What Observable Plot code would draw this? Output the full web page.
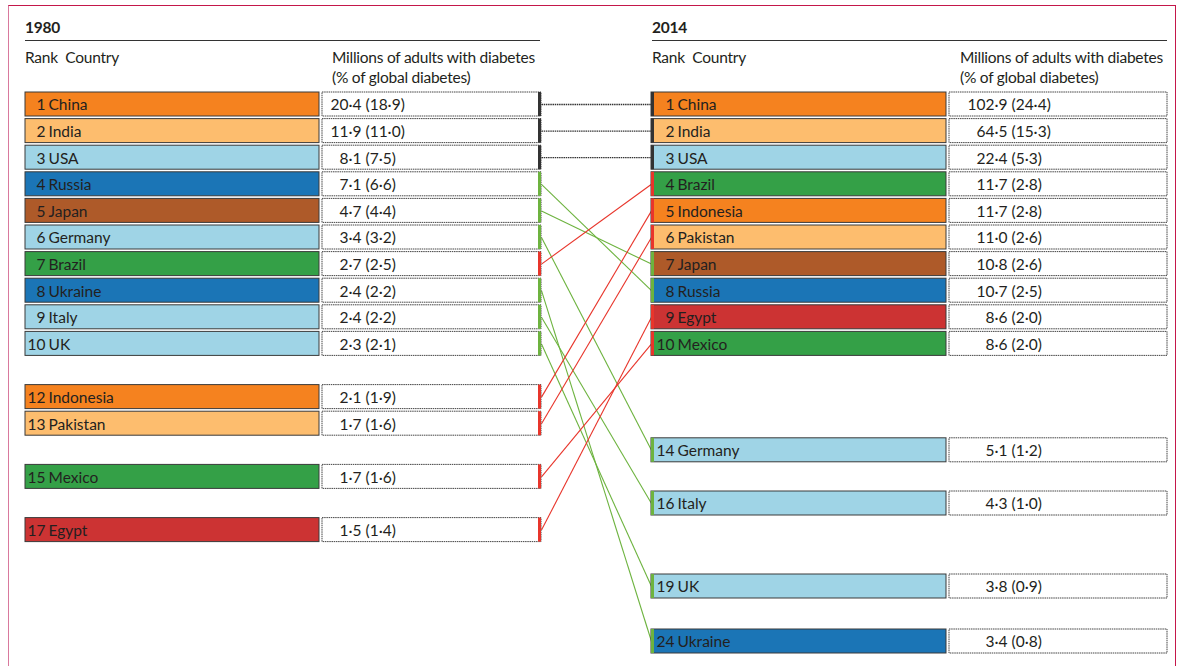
<!DOCTYPE html>
<html><head><meta charset="utf-8">
<script src="https://cdn.jsdelivr.net/npm/d3@7"></script>
<script src="https://cdn.jsdelivr.net/npm/@observablehq/plot@0.6"></script>
<style>
body{margin:0;background:#fff;}
#wrap{position:relative;width:1182px;height:666px;overflow:hidden;font-family:Lato,"Open Sans",sans-serif;color:#231f20}
#frame{position:absolute;left:8px;top:5px;width:1168px;height:700px;border-top:1.5px solid #c4174a;border-left:1.5px solid #d9799d;border-right:1.5px solid #c4174a;pointer-events:none;box-sizing:border-box}
.h{position:absolute;font-size:15.5px;line-height:20px;white-space:nowrap;letter-spacing:-0.25px}
.yr{font-weight:bold;font-size:15.5px;padding-bottom:3px;border-bottom:1.2px solid #333;width:515px}
#chart{position:absolute;left:0;top:0}
</style></head>
<body><div id="wrap">
<div id="chart"></div>
<div class="h yr" style="left:25px;top:17px">1980</div>
<div class="h" style="left:25px;top:47px">Rank&nbsp; Country</div>
<div class="h" style="left:332px;top:47px">Millions of adults with diabetes<br>(% of global diabetes)</div>
<div class="h yr" style="left:652px;top:17px">2014</div>
<div class="h" style="left:652px;top:47px">Rank&nbsp; Country</div>
<div class="h" style="left:960px;top:47px">Millions of adults with diabetes<br>(% of global diabetes)</div>
<div id="frame"></div>
</div>
<script>
// ---- data ----
const countries1980 = ["China","India","USA","Russia","Japan","Germany","Brazil","Ukraine","Italy","UK","Indonesia","Pakistan","Mexico","Egypt"];
const ranks1980 = [1,2,3,4,5,6,7,8,9,10,12,13,15,17];
const values1980 = ["20·4","11·9","8·1","7·1","4·7","3·4","2·7","2·4","2·4","2·3","2·1","1·7","1·7","1·5"];
const shares1980 = ["18·9","11·0","7·5","6·6","4·4","3·2","2·5","2·2","2·2","2·1","1·9","1·6","1·6","1·4"];

const countries2014 = ["China","India","USA","Brazil","Indonesia","Pakistan","Japan","Russia","Egypt","Mexico","Germany","Italy","UK","Ukraine"];
const ranks2014 = [1,2,3,4,5,6,7,8,9,10,14,16,19,24];
const values2014 = ["102·9","64·5","22·4","11·7","11·7","11·0","10·8","10·7","8·6","8·6","5·1","4·3","3·8","3·4"];
const shares2014 = ["24·4","15·3","5·3","2·8","2·8","2·6","2·6","2·5","2·0","2·0","1·2","1·0","0·9","0·8"];

// ---- styles ----
const countryColor = {China:"#f5821f", India:"#fdbd6e", USA:"#9fd4e6", Russia:"#1b75b6", Japan:"#ae5a29",
  Germany:"#9fd4e6", Brazil:"#34a047", Ukraine:"#1b75b6", Italy:"#9fd4e6", UK:"#9fd4e6",
  Indonesia:"#f5821f", Pakistan:"#fdbd6e", Mexico:"#34a047", Egypt:"#cc3333"};
const changeColor = {up:"#e8352b", down:"#6db33f", same:"#333333"};
const TXT = "#231f20";
const FONT = "Lato, 'Open Sans', sans-serif";
const FS = 15.5;

// ---- layout (pixels) ----
const L = {name1:25, name2:319, val1:322, val2:541, rankEnd:45, nameStart:48, numEnd:361, pctStart:365};
const R = {name1:651, name2:946, val1:949, val2:1167, rankEnd:674, nameStart:677, numEnd:1007, pctStart:1011};
const HALF = 12;

const t1980 = countries1980.map((c,i)=>({country:c, rank:ranks1980[i], value:values1980[i], share:shares1980[i]}));
const t2014 = countries2014.map((c,i)=>({country:c, rank:ranks2014[i], value:values2014[i], share:shares2014[i]}));
const rank2014 = new Map(t2014.map(d=>[d.country,d.rank]));
const rank1980 = new Map(t1980.map(d=>[d.country,d.rank]));
const change = (a,b) => b < a ? "up" : b > a ? "down" : "same";
const links = t1980.map(d=>({country:d.country, r1:d.rank, r2:rank2014.get(d.country), ch:change(d.rank, rank2014.get(d.country))}));
t1980.forEach(d=>d.ch = change(d.rank, rank2014.get(d.country)));
t2014.forEach(d=>d.ch = change(rank1980.get(d.country), d.rank));

const txt = {fill:TXT, fontSize:FS, dy:1, style:"letter-spacing:-0.25px"};
function side(t, S, barX1, barX2){
  return [
    Plot.rect(t, {x1:S.name1, x2:S.name2, y1:"rank", y2:"rank", insetTop:-HALF, insetBottom:-HALF,
      fill:d=>countryColor[d.country], stroke:"#3a3a3a", strokeWidth:1}),
    Plot.rect(t, {x1:S.val1, x2:S.val2, y1:"rank", y2:"rank", insetTop:-HALF, insetBottom:-HALF,
      fill:"white", stroke:"#444", strokeWidth:1, strokeDasharray:"1.5,0.7"}),
    Plot.rect(t, {x1:barX1, x2:barX2, y1:"rank", y2:"rank", insetTop:-HALF, insetBottom:-HALF,
      fill:d=>changeColor[d.ch]}),
    Plot.text(t, {x:S.rankEnd, y:"rank", text:d=>String(d.rank), textAnchor:"end", ...txt}),
    Plot.text(t, {x:S.nameStart, y:"rank", text:"country", textAnchor:"start", ...txt}),
    Plot.text(t, {x:S.numEnd, y:"rank", text:"value", textAnchor:"end", ...txt}),
    Plot.text(t, {x:S.pctStart, y:"rank", text:d=>"("+d.share+")", textAnchor:"start", ...txt})
  ];
}

const chart = Plot.plot({
  width:1182, height:666,
  margin:0,
  style:{background:"white", fontFamily:FONT},
  x:{type:"linear", domain:[0,1182], range:[0,1182], axis:null},
  y:{type:"linear", domain:[1,17,19,24], range:[104,529.6,586,641], axis:null},
  marks:[
    Plot.link(links.filter(d=>d.ch==="same"), {x1:L.val2, x2:R.name1, y1:"r1", y2:"r2",
      stroke:changeColor.same, strokeWidth:1.3, strokeDasharray:"1.5,0.7"}),
    Plot.link(links.filter(d=>d.ch!=="same"), {x1:L.val2, x2:R.name1, y1:"r1", y2:"r2",
      stroke:d=>changeColor[d.ch], strokeWidth:1.1}),
    ...side(t1980, L, L.val2-3, L.val2),
    ...side(t2014, R, R.name1, R.name1+3)
  ]
});
document.getElementById("chart").appendChild(chart);
</script>
</body></html>
